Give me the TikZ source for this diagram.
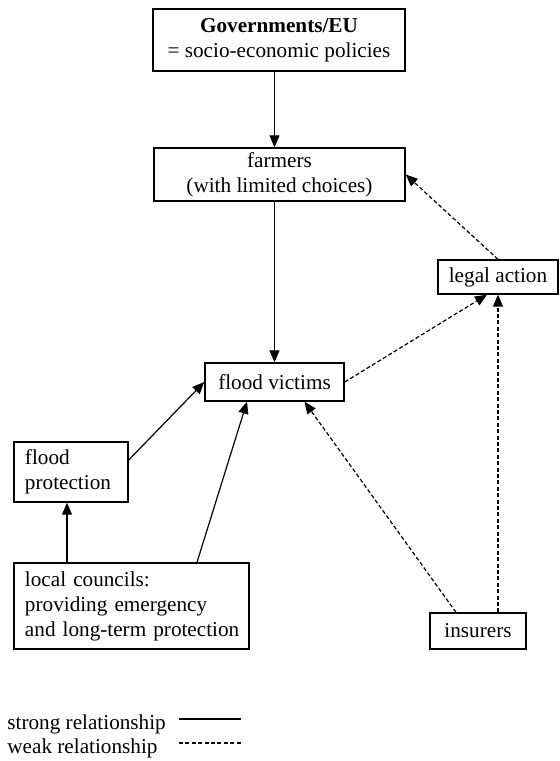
\documentclass[tikz,border=0pt]{standalone}
\usepackage{fontspec}
\setmainfont{Liberation Serif}
\usetikzlibrary{arrows.meta,positioning}
\tikzstyle{box} = [draw, line width=0.7pt, align=center, inner sep=0pt]
\tikzstyle{strongrel} = [line width=0.6pt, -{Triangle[length=6pt,width=5pt]}]
\tikzstyle{weakrel} = [strongrel, dash pattern=on 2pt off 1.2pt]

\begin{document}
\begin{tikzpicture}[x=0.5pt, y=-0.5pt, font=\fontsize{10.6}{12.5}\selectfont]
\useasboundingbox (0,0) rectangle (560,761);

% Boxes
\node[box, minimum width=126pt, minimum height=31pt] (gov) at (279,40) {\textbf{Governments/EU}\\= socio-economic policies};
\node[box, minimum width=125.5pt, minimum height=26.5pt] (farmers) at (279.5,174.5) {farmers\\(with limited choices)};
\node[box, minimum width=69.5pt, minimum height=19pt] (victims) at (274.5,382) {flood victims};
\node[box, minimum width=60pt, minimum height=17pt] (legal) at (498,277) {legal action};
\node[box, minimum width=57pt, minimum height=30pt, text width=46pt, align=left] (protection) at (71,472) {flood\\protection};
\node[box, minimum width=117.5pt, minimum height=43pt, text width=106.5pt, align=left] (councils) at (131.5,606) {local councils:\\providing emergency\\\mbox{and long-term protection}};
\node[box, minimum width=48pt, minimum height=18pt] (insurers) at (478,631) {insurers};

% Strong relationships
\draw[strongrel] (gov.south -| victims.north) -- (farmers.north -| victims.north);
\draw[strongrel] (farmers.south -| victims.north) -- (victims.north);
\draw[strongrel] ([yshift=6pt]protection.east) -- (victims.west);
\draw[strongrel] ([xshift=32.75pt]councils.north) -- ([xshift=-13.75pt]victims.south);
\draw[strongrel] ([xshift=-2pt]protection.south |- councils.north) -- ([xshift=-2pt]protection.south);

% Weak relationships
\draw[weakrel] ([xshift=-11pt]insurers.north) -- ([xshift=15pt]victims.south);
\draw[weakrel] (insurers.north -| legal.south) -- (legal.south);
\draw[weakrel] (victims.east) -- ([xshift=-5.5pt]legal.south);
\draw[weakrel] (legal.north) -- (farmers.east);

% Legend
\node[anchor=west, inner sep=0pt] (strongkey) at (7,724) {strong relationship};
\node[anchor=west, inner sep=0pt] (weakkey) at (7,748) {weak relationship};
\coordinate (s1) at (179,719);
\coordinate (s2) at (241,719);
\coordinate (w1) at (179,743);
\coordinate (w2) at (241,743);
\draw[line width=0.6pt] (s1) -- (s2);
\draw[line width=0.6pt, dash pattern=on 2pt off 1.2pt] (w1) -- (w2);
\end{tikzpicture}
\end{document}
